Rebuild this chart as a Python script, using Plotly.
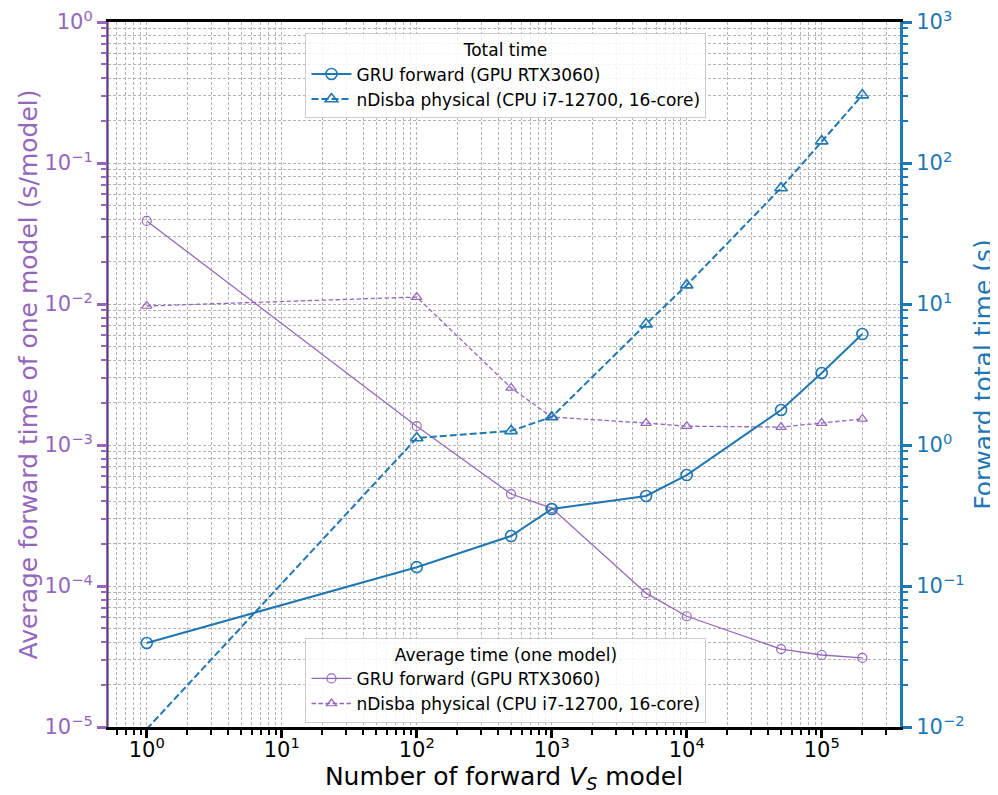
import plotly.graph_objects as go

# ---- data ----
n_models = [1, 100, 500, 1000, 5000, 10000, 50000, 100000, 200000]

avg_gru = [0.0388, 0.00136, 4.49e-4, 3.57e-4, 8.9e-5, 6.1e-5, 3.57e-5, 3.24e-5, 3.09e-5]
avg_ndisba = [0.00968, 0.0112, 0.00254, 0.00158, 0.00143, 0.00136, 0.00134, 0.00143, 0.00153]

total_gru = [0.0394, 0.136, 0.226, 0.352, 0.435, 0.612, 1.77, 3.24, 6.12]
total_ndisba = [0.00968, 1.12, 1.26, 1.58, 7.2, 13.6, 66.5, 143, 303]

legend_total_title = "Total time"
legend_avg_title = "Average time (one model)"
name_gru = "GRU forward (GPU RTX3060)"
name_ndisba = "nDisba physical (CPU i7-12700, 16-core)"

x_decades = [0, 1, 2, 3, 4, 5]
left_decades = [-5, -4, -3, -2, -1, 0]
right_decades = [-2, -1, 0, 1, 2, 3]

PURPLE = "#9467bd"
BLUE = "#1f77b4"
FONT = "DejaVu Sans"
GRID = "#b4b4b4"
GDASH = "3px,2px"


def pow_label(e):
    s = str(e).replace("-", "\u2212")
    return f"10<sup>{s}</sup>"


def minor_vals(lo, hi):
    vals = []
    for e in range(lo, hi + 1):
        for m in range(2, 10):
            vals.append(m * 10.0 ** e)
    return vals


fig = go.Figure()

# average (left axis, purple)
fig.add_trace(go.Scatter(
    x=n_models, y=avg_gru, name=name_gru, mode="lines+markers",
    line=dict(color=PURPLE, width=1.3),
    marker=dict(symbol="circle-open", size=9, color=PURPLE, line=dict(width=1.2)),
    legend="legend2", yaxis="y"))
fig.add_trace(go.Scatter(
    x=n_models, y=avg_ndisba, name=name_ndisba, mode="lines+markers",
    line=dict(color=PURPLE, width=1.3, dash="4.5px,2.5px"),
    marker=dict(symbol="triangle-up-open", size=9, color=PURPLE, line=dict(width=1.2)),
    legend="legend2", yaxis="y"))

# total (right axis, blue)
fig.add_trace(go.Scatter(
    x=n_models, y=total_gru, name=name_gru, mode="lines+markers",
    line=dict(color=BLUE, width=2),
    marker=dict(symbol="circle-open", size=11, color=BLUE, line=dict(width=1.6)),
    legend="legend", yaxis="y2", cliponaxis=False))
fig.add_trace(go.Scatter(
    x=n_models, y=total_ndisba, name=name_ndisba, mode="lines+markers",
    line=dict(color=BLUE, width=2, dash="7px,3px"),
    marker=dict(symbol="triangle-up-open", size=11, color=BLUE, line=dict(width=1.6)),
    legend="legend", yaxis="y2"))

fig.update_layout(
    width=990, height=787,
    margin=dict(l=100, r=98, t=14, b=68),
    paper_bgcolor="white", plot_bgcolor="white",
    font=dict(family=FONT, size=16, color="black"),
    xaxis=dict(
        type="log", range=[-0.287, 5.58], automargin=False,
        tickvals=[10.0 ** e for e in x_decades],
        ticktext=[pow_label(e) for e in x_decades],
        ticks="outside", ticklen=8, tickwidth=2.5, tickcolor="black",
        tickfont=dict(size=21, color="black"), ticklabelstandoff=-6,
        ticklabeloverflow="allow",
        showline=True, linecolor="black", linewidth=3, mirror=True,
        showgrid=True, gridcolor=GRID, griddash=GDASH, gridwidth=0.8,
        minor=dict(tickvals=minor_vals(-1, 5), ticks="outside", ticklen=5,
                   tickwidth=1.5, tickcolor="black", showgrid=True,
                   gridcolor=GRID, griddash=GDASH, gridwidth=0.8),
        title=dict(text="Number of forward <i>V</i><sub><i>S</i></sub> model",
                   font=dict(size=25, color="black"), standoff=0),
        zeroline=False,
    ),
    yaxis=dict(
        type="log", range=[-5, 0], automargin=False,
        tickvals=[10.0 ** e for e in left_decades],
        ticktext=[pow_label(e) for e in left_decades],
        ticks="outside", ticklen=9, tickwidth=2.5, tickcolor=PURPLE,
        tickfont=dict(size=21, color=PURPLE), ticklabeloverflow="allow",
        showline=True, linecolor=PURPLE, linewidth=2,
        showgrid=True, gridcolor=GRID, griddash=GDASH, gridwidth=0.8,
        minor=dict(tickvals=minor_vals(-6, 0), ticks="outside", ticklen=5,
                   tickwidth=1.5, tickcolor=PURPLE, showgrid=True,
                   gridcolor=GRID, griddash=GDASH, gridwidth=0.8),
        title=dict(text="Average forward time of one model (s/model)",
                   font=dict(size=25, color=PURPLE), standoff=0),
        zeroline=False,
    ),
    yaxis2=dict(
        type="log", range=[-2, 3], overlaying="y", side="right", anchor="x",
        automargin=False,
        tickvals=[10.0 ** e for e in right_decades],
        ticktext=[pow_label(e) for e in right_decades],
        ticks="outside", ticklen=9, tickwidth=2.5, tickcolor=BLUE,
        tickfont=dict(size=21, color=BLUE), ticklabeloverflow="allow",
        showline=True, linecolor=BLUE, linewidth=3,
        showgrid=False,
        minor=dict(tickvals=minor_vals(-3, 3), ticks="outside", ticklen=5,
                   tickwidth=1.5, tickcolor=BLUE, showgrid=False),
        title=dict(text="Forward total time (s)",
                   font=dict(size=25, color=BLUE), standoff=12),
        zeroline=False,
    ),
    legend=dict(
        x=0.5025, y=0.984, xanchor="center", yanchor="top",
        bgcolor="rgba(255,255,255,0.85)", bordercolor="#cccccc", borderwidth=1,
        title=dict(text=legend_total_title, side="top center", font=dict(size=17)),
        font=dict(size=17), itemwidth=40, tracegroupgap=0,
    ),
    legend2=dict(
        x=0.5025, y=0.006, xanchor="center", yanchor="bottom",
        bgcolor="rgba(255,255,255,0.85)", bordercolor="#cccccc", borderwidth=1,
        title=dict(text=legend_avg_title, side="top center", font=dict(size=17)),
        font=dict(size=17), itemwidth=40, tracegroupgap=0,
    ),
    showlegend=True,
)

# dark inner edge of the left spine (as in the reference)
fig.add_shape(type="line", xref="paper", yref="paper", x0=0, x1=0, y0=0, y1=1,
              line=dict(color="#2a1f3d", width=1), layer="above")

fig.write_html("out.html")
